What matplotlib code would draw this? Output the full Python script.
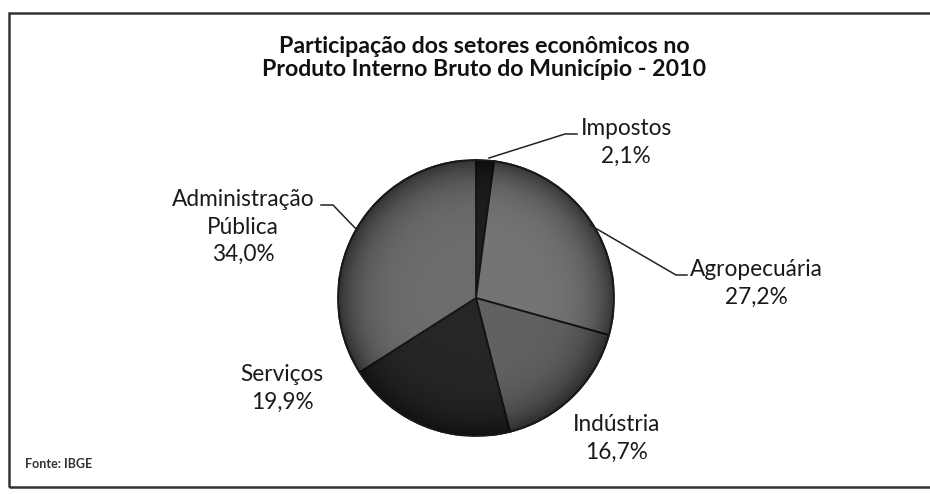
import numpy as np
import matplotlib
matplotlib.use("Agg")
import matplotlib.pyplot as plt
from matplotlib.patches import Rectangle, Circle
from matplotlib.lines import Line2D

plt.rcParams['font.family'] = ['Lato', 'DejaVu Sans']

setores = ["Impostos", "Agropecuária", "Indústria", "Serviços", "Administração\nPública"]
valores = [2.1, 27.2, 16.7, 19.9, 34.0]
cores = ["#1e1e1e", "#747474", "#616161", "#262626", "#6c6c6c"]

W, H = 930, 494
fig = plt.figure(figsize=(W / 100, H / 100), dpi=100)
fig.patch.set_facecolor("white")

def fx(px):
    return px / W

def fy(py):
    return 1 - py / H

# moldura
fig.patches.append(Rectangle((fx(9), fy(487)), fx(932) - fx(9), fy(13) - fy(487),
                             transform=fig.transFigure, fill=False,
                             edgecolor="#333333", linewidth=1.8))

# centro e raio do setor em pixels
cx, cy, r = 476, 298, 138
ax = fig.add_axes([fx(cx - r), fy(cy + r), 2 * r / W, 2 * r / H])

wedges, _ = ax.pie(valores, colors=cores, startangle=90, counterclock=False,
                   radius=1.0, wedgeprops=dict(edgecolor="#151515", linewidth=1.3))

# sombreamento radial (bordas mais escuras) para efeito 3D
n = 300
xx, yy = np.meshgrid(np.linspace(-1, 1, n), np.linspace(-1, 1, n))
rr = np.clip(np.sqrt(xx ** 2 + yy ** 2), 0, 1)
rgba = np.zeros((n, n, 4))
rgba[..., 3] = 0.55 * rr ** 6
img = ax.imshow(rgba, extent=(-1, 1, -1, 1), origin="lower", zorder=3)
img.set_clip_path(Circle((0, 0), 1.0, transform=ax.transData))
ax.add_patch(Circle((0, 0), 1.0, fill=False, edgecolor="#1a1a1a", linewidth=1.3, zorder=4))
ax.set_xlim(-1, 1)
ax.set_ylim(-1, 1)
ax.set_aspect("auto")
ax.axis("off")

titulo = "Participação dos setores econômicos no\nProduto Interno Bruto do Município - 2010"
fig.text(fx(484), fy(58), titulo, ha="center", va="center", fontsize=16.7,
         fontweight="bold", linespacing=1.15, color="#111111")

rot = [f"{s}\n{v:.1f}%".replace(".", ",") for s, v in zip(setores, valores)]
pos_rot = [(626, 142), (756, 283), (617, 438), (282, 388), (243, 227)]
for t, (px, py) in zip(rot, pos_rot):
    fig.text(fx(px), fy(py), t, ha="center", va="center", fontsize=16.3,
             linespacing=1.4, color="#1a1a1a")

# linhas de chamada
linhas = [
    [(489, 158), (565, 134), (577, 134)],
    [(590, 225), (676, 275), (687, 275)],
    [(357, 230), (333, 205), (321, 205)],
]
for pts in linhas:
    xs = [fx(p[0]) for p in pts]
    ys = [fy(p[1]) for p in pts]
    fig.add_artist(Line2D(xs, ys, transform=fig.transFigure, color="#222222", linewidth=1.1))

fig.text(fx(25), fy(464), "Fonte: IBGE", ha="left", va="center", fontsize=9,
         fontweight="bold", color="#333333")

fig.savefig("out.png", dpi=100)
